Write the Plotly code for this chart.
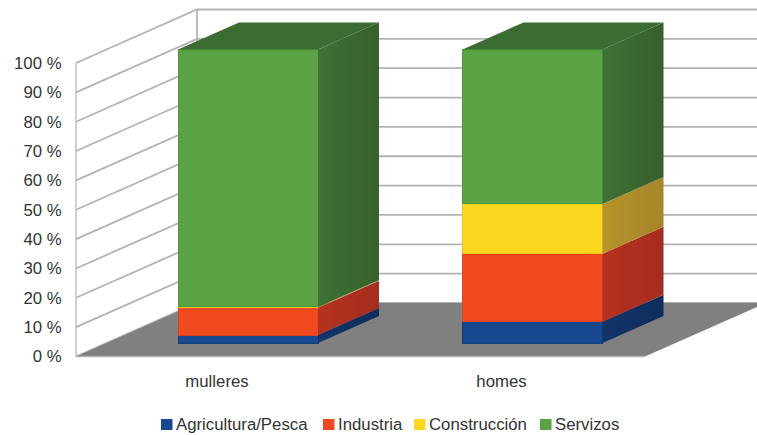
import plotly.graph_objects as go

categories = ["mulleres", "homes"]
series_names = ["Agricultura/Pesca", "Industria", "Construcción", "Servizos"]
agricultura = [2.7, 7.2]
industria = [9.3, 23.2]
construccion = [0.3, 17.0]
servizos = [87.7, 52.6]
tick_values = [0, 10, 20, 30, 40, 50, 60, 70, 80, 90, 100]
tick_labels = [f"{t} %" for t in tick_values]

series_values = [agricultura, industria, construccion, servizos]
front_colors = ["#17488f", "#f14a20", "#fdd71f", "#59a345"]
edge_colors = ["#153f7c", "#d8431f", "#e8c41f", "#4f9640"]
side_dark = ["#0f2d5c", "#a52c1e", "#a5862a", "#37602c"]
side_light = ["#123468", "#b53220", "#b5942a", "#3f7136"]

W, H = 757, 435
CAT_PX = 284.5          # pixels between categories
Y_PX = 2.935            # pixels per percentage point
FRONT_Y0 = 356.5        # pixel of 0 % on the front plane
BAR_Y0 = 343.0          # pixel of 0 % on the bars' front face
LABEL_X0 = 217.0        # pixel of the first category label
BAR_X0 = 248.0          # pixel of the first bar's centre
WALL_DX, WALL_DY = 121.0, 53.5
BAR_DX, BAR_DY = 61.0, 27.0
BAR_W = 140.0
LEFT_PX, RIGHT_PX = 76.0, 645.0
GRID = "#b3b3b3"
LEGEND_SWATCH_PX = [161, 323, 414, 540]
LEGEND_Y_PX = 424.5

fig = go.Figure()

ux = lambda px: (px - LABEL_X0) / CAT_PX
wall_dx = WALL_DX / CAT_PX
wall_dy = WALL_DY / Y_PX
x_left, x_right = ux(LEFT_PX), ux(RIGHT_PX)

# back wall and side wall grid
for t in tick_values:
    fig.add_trace(go.Scatter(
        x=[x_left, x_left + wall_dx, x_right + wall_dx + 1],
        y=[t, t + wall_dy, t + wall_dy],
        mode="lines", line=dict(color=GRID, width=1.8), showlegend=False, hoverinfo="skip"))
fig.add_trace(go.Scatter(
    x=[x_left, x_left], y=[tick_values[0], tick_values[-1]],
    mode="lines", line=dict(color=GRID, width=1.2), showlegend=False, hoverinfo="skip"))
fig.add_trace(go.Scatter(
    x=[x_left + wall_dx, x_left + wall_dx], y=[wall_dy, 100 + wall_dy],
    mode="lines", line=dict(color=GRID, width=1.8), showlegend=False, hoverinfo="skip"))
# floor
fig.add_trace(go.Scatter(
    x=[x_left, x_left + wall_dx, x_right + wall_dx, x_right, x_left],
    y=[0, wall_dy, wall_dy, 0, 0],
    mode="none", fill="toself", fillcolor="#808080", showlegend=False, hoverinfo="skip"))
fig.add_trace(go.Scatter(
    x=[x_left, x_right], y=[0, 0],
    mode="lines", line=dict(color=GRID, width=1.5), showlegend=False, hoverinfo="skip"))
# anchor for the category labels
fig.add_trace(go.Scatter(x=[0, 1], y=[0, 0], mode="markers", marker=dict(opacity=0),
                         showlegend=False, hoverinfo="skip"))

# bars and their 3D faces, on an overlay so that they sit above the floor
half = BAR_W / 2 / CAT_PX
bdx = BAR_DX / CAT_PX
bdy = BAR_DY / Y_PX
positions = list(range(len(categories)))
for name, vals, col, edge in zip(series_names, series_values, front_colors, edge_colors):
    fig.add_trace(go.Bar(
        x=positions, y=vals, name=name, width=BAR_W / CAT_PX,
        marker=dict(color=col, line=dict(color=edge, width=1)),
        xaxis="x2", yaxis="y2", hoverinfo="skip", showlegend=False))

for pos in positions:
    base = 0.0
    for vals, dark, light in zip(series_values, side_dark, side_light):
        top = base + vals[pos]
        xr = pos + half
        fig.add_trace(go.Scatter(
            x=[xr, xr + bdx, xr + bdx, xr, xr],
            y=[base, base + bdy, top + bdy, top, base],
            mode="none", fill="toself",
            fillgradient=dict(type="horizontal", colorscale=[[0, light], [1, dark]]),
            xaxis="x2", yaxis="y2", showlegend=False, hoverinfo="skip"))
        base = top
    xl = pos - half
    fig.add_trace(go.Scatter(
        x=[xl, xr, xr + bdx, xl + bdx, xl],
        y=[base, base, base + bdy, base + bdy, base],
        mode="none", fill="toself", fillcolor="#3b6c31",
        xaxis="x2", yaxis="y2", showlegend=False, hoverinfo="skip"))

font = dict(family="Liberation Sans", size=16.8, color="#333333")

# compact legend: the swatch-to-text gap of the reference is tighter than the native legend allows
shapes, annotations = [], []
for name, col, sx in zip(series_names, front_colors, LEGEND_SWATCH_PX):
    shapes.append(dict(type="rect", xref="paper", yref="paper", layer="above",
                       x0=sx / W, x1=(sx + 11.5) / W,
                       y0=(H - LEGEND_Y_PX - 5.5) / H, y1=(H - LEGEND_Y_PX + 5.5) / H,
                       fillcolor=col, line=dict(width=0)))
    annotations.append(dict(text=name, xref="paper", yref="paper", showarrow=False,
                            x=(sx + 15) / W, xanchor="left",
                            y=(H - LEGEND_Y_PX) / H, yanchor="middle", font=font,
                            borderpad=0, borderwidth=0))

fig.update_layout(
    width=W, height=H, autosize=False,
    margin=dict(l=0, r=0, t=0, b=0, autoexpand=False),
    paper_bgcolor="white", plot_bgcolor="white",
    barmode="stack", font=font, showlegend=False,
    shapes=shapes, annotations=annotations,
    xaxis=dict(range=[ux(0), ux(W)], domain=[0, 1], anchor="free", position=(H - FRONT_Y0) / H,
               tickvals=positions, ticktext=categories,
               showgrid=False, zeroline=False, showline=False,
               ticks="outside", ticklen=9, tickcolor="rgba(0,0,0,0)", tickfont=font),
    yaxis=dict(range=[(FRONT_Y0 - H) / Y_PX, FRONT_Y0 / Y_PX], domain=[0, 1],
               anchor="free", position=LEFT_PX / W,
               tickvals=tick_values, ticktext=tick_labels,
               showgrid=False, zeroline=False, showline=False,
               ticks="outside", ticklen=11, tickcolor="rgba(0,0,0,0)", tickfont=font),
    xaxis2=dict(range=[-BAR_X0 / CAT_PX, (W - BAR_X0) / CAT_PX], overlaying="x", visible=False),
    yaxis2=dict(range=[(BAR_Y0 - H) / Y_PX, BAR_Y0 / Y_PX], overlaying="y", visible=False),
)
fig.write_html("out.html", config=dict(displayModeBar=False),
               post_script="document.body.style.margin='0';")
